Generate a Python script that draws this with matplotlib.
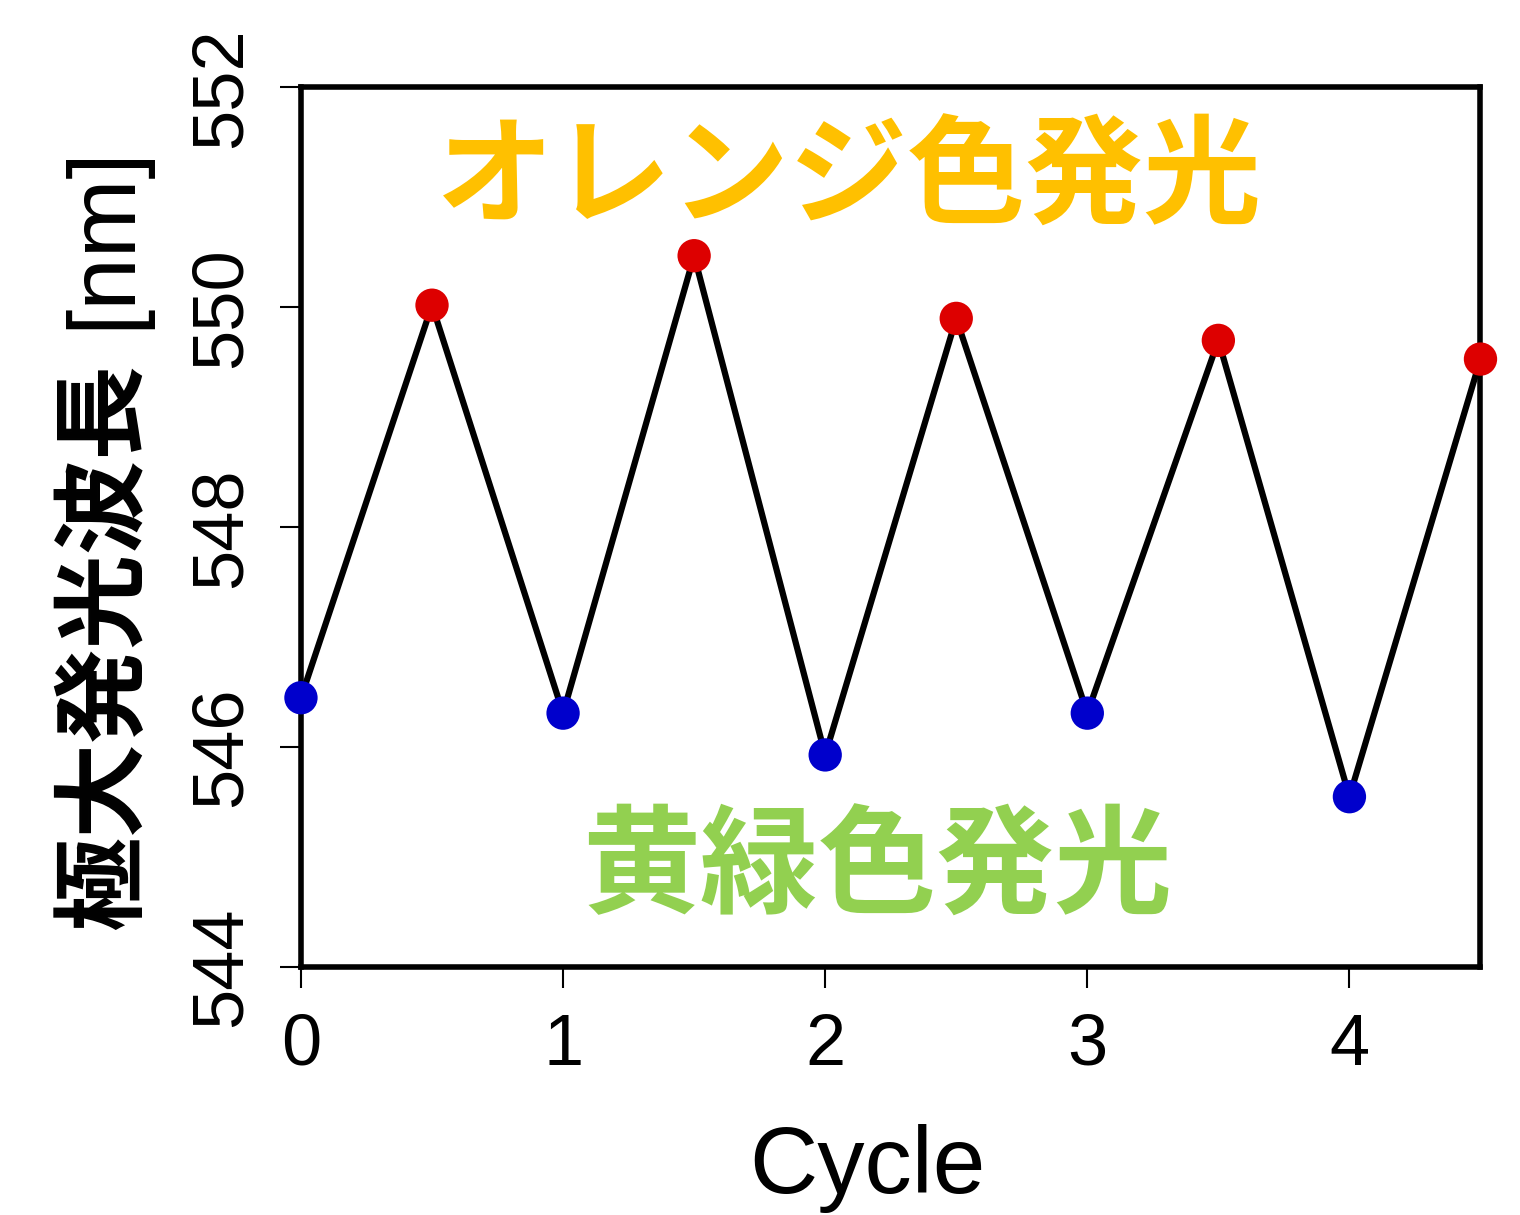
import matplotlib
matplotlib.use("Agg")
import matplotlib.pyplot as plt

cycles = [0, 0.5, 1, 1.5, 2, 2.5, 3, 3.5, 4, 4.5]
wavelength = [546.45, 550.02, 546.31, 550.47, 545.93, 549.90, 546.31, 549.70, 545.55, 549.53]
point_colors = ["#0000CC", "#DD0000"] * 5
xticks = [0, 1, 2, 3, 4]
yticks = [544, 546, 548, 550, 552]

plt.rcParams['font.family'] = ['Liberation Sans', 'Noto Sans CJK JP']

fig = plt.figure(figsize=(15.2, 12.15), dpi=100)
ax = fig.add_axes([0.198, 0.204, 0.776, 0.724])

ax.plot(cycles, wavelength, color="black", lw=4.5, zorder=2)
ax.scatter(cycles, wavelength, c=point_colors, s=24**2, zorder=3, clip_on=False, linewidths=0)

ax.set_xlim(0, 4.5)
ax.set_ylim(544, 552)
ax.set_xticks(xticks)
ax.set_yticks(yticks)
ax.set_xticklabels([str(t) for t in xticks], fontsize=52)
ax.set_yticklabels([str(t) for t in yticks], fontsize=52, rotation=90, va='center')
ax.tick_params(axis='both', direction='out', length=15, width=1.5, color='black')
ax.tick_params(axis='x', pad=18)
ax.tick_params(axis='y', pad=18)
for sp in ax.spines.values():
    sp.set_linewidth(4)

ax.set_xlabel("Cycle", fontsize=68)
ax.xaxis.set_label_coords(0.48, -0.178)

ax.text(-0.166, 0.364, "極大発光波長", transform=ax.transAxes, rotation=90,
        ha='center', va='center', fontsize=68, fontweight='bold',
        family=['Noto Sans CJK JP'])
ax.text(-0.166, 0.83, "[nm]", transform=ax.transAxes, rotation=90,
        ha='center', va='center', fontsize=68, family=['Liberation Sans'])

ax.text(2.09, 551.16, "オレンジ色発光", ha='center', va='center', fontsize=85,
        fontweight='bold', color="#FFC000", family=['Noto Sans CJK JP'])
ax.text(2.2, 544.88, "黄緑色発光", ha='center', va='center', fontsize=85,
        fontweight='bold', color="#92D050", family=['Noto Sans CJK JP'])

fig.savefig("out.png", dpi=100)
